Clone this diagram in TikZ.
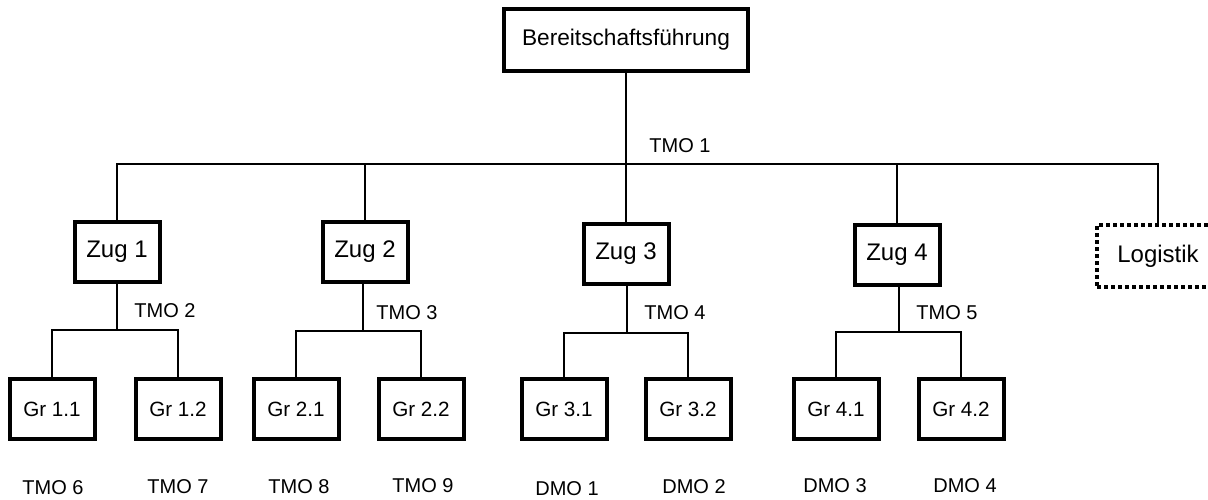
\documentclass[tikz,border=0pt]{standalone}
\usepackage{fontspec}
\setmainfont{Liberation Sans}
\usepackage{tikz}
\usetikzlibrary{positioning,calc}

\begin{document}
\begin{tikzpicture}[x=0.75pt,y=-0.75pt]
 \tikzset{block/.style={rectangle, draw, line width=3pt, minimum width=63.75pt, minimum height=45pt, inner sep=0pt, font=\fontsize{18}{21}\selectfont},
          grblock/.style={block, font=\fontsize{15.5}{18}\selectfont},
          lbl/.style={font=\fontsize{15}{18}\selectfont, inner sep=0pt},
          conn/.style={line width=1.3pt}};
  \useasboundingbox (0,0) rectangle (1208,500);
  % Leitung
  \node[block, minimum width=183pt, minimum height=46.5pt, font=\fontsize{17}{20}\selectfont] (boss) at (626,40) {Bereitschaftsführung};
  % Zuege
  \node[block] (zug1) at (117,252) {Zug 1};
  \node[block] (zug2) at (365,252) {Zug 2};
  \node[block] (zug3) at (626,254) {Zug 3};
  \node[block] (zug4) at (897,255) {Zug 4};
  \node[block, dash pattern=on 3pt off 2.25pt, minimum width=91.5pt, minimum height=47pt] (logistik) at (1158,256) {Logistik};
  \coordinate (bus) at (626,164);
  \draw[conn] (boss) -- (bus);
  \draw[conn] (zug1) |- (bus) -| (logistik);
  \draw[conn] (zug2) -- (zug2 |- bus);
  \draw[conn] (zug3) -- (bus);
  \draw[conn] (zug4) -- (zug4 |- bus);
  \node[lbl] (tmo1) at (680,146) {TMO 1};
  % Gruppen
  \node[grblock] (gr11) at (52,409) {Gr 1.1};
  \node[grblock] (gr12) at (178,409) {Gr 1.2};
  \node[grblock] (gr21) at (296,409) {Gr 2.1};
  \node[grblock] (gr22) at (421,409) {Gr 2.2};
  \node[grblock] (gr31) at (564,409) {Gr 3.1};
  \node[grblock] (gr32) at (688,409) {Gr 3.2};
  \node[grblock] (gr41) at (836,409) {Gr 4.1};
  \node[grblock] (gr42) at (961,409) {Gr 4.2};
  \coordinate (t1) at (117,330);
  \coordinate (t2) at (363,331);
  \coordinate (t3) at (627,333);
  \coordinate (t4) at (899,332);
  \draw[conn] (t1 |- zug1.south) -- (t1);
  \draw[conn] (gr11) |- (t1) -| (gr12);
  \draw[conn] (t2 |- zug2.south) -- (t2);
  \draw[conn] (gr21) |- (t2) -| (gr22);
  \draw[conn] (t3 |- zug3.south) -- (t3);
  \draw[conn] (gr31) |- (t3) -| (gr32);
  \draw[conn] (t4 |- zug4.south) -- (t4);
  \draw[conn] (gr41) |- (t4) -| (gr42);
  \node[lbl] (tmo2) at (165,311) {TMO 2};
  \node[lbl] (tmo3) at (407,313) {TMO 3};
  \node[lbl] (tmo4) at (675,313) {TMO 4};
  \node[lbl] (tmo5) at (947,313) {TMO 5};
  % Bezeichnungen unten
  \node[lbl] (tmo6) at (53,488) {TMO 6};
  \node[lbl] (tmo7) at (178,487) {TMO 7};
  \node[lbl] (tmo8) at (299,487) {TMO 8};
  \node[lbl] (tmo9) at (423,486) {TMO 9};
  \node[lbl] (dmo1) at (567,489) {DMO 1};
  \node[lbl] (dmo2) at (694,487) {DMO 2};
  \node[lbl] (dmo3) at (835,486) {DMO 3};
  \node[lbl] (dmo4) at (965,486) {DMO 4};
\end{tikzpicture}
\end{document}
